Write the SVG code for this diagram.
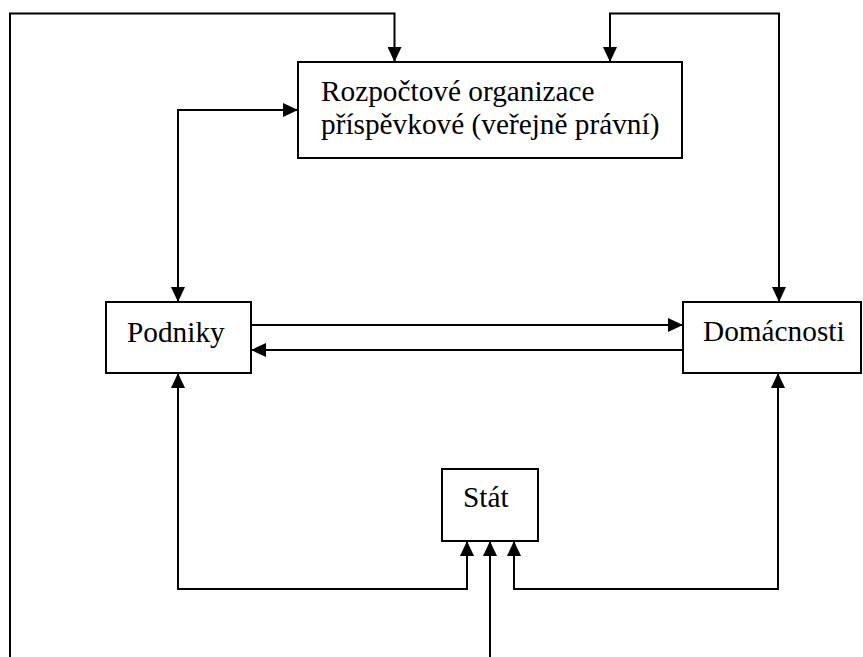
<svg xmlns="http://www.w3.org/2000/svg" width="863" height="657" viewBox="0 0 863 657">
<style>
.box{fill:#fff;stroke:#000;stroke-width:2}
.lbl{font-family:"Liberation Serif","Times New Roman",serif;font-size:29.3px;fill:#000}
.c{fill:none;stroke:#000;stroke-width:2}
</style>
<defs>
<marker id="ah" markerUnits="userSpaceOnUse" markerWidth="15" markerHeight="14" refX="15" refY="7" orient="auto-start-reverse">
<path d="M0,0 L15,7 L0,14 z" fill="#000"/>
</marker>
</defs>
<rect width="863" height="657" fill="#fff"/>
<g id="connectors">
<path class="c" d="M10,657 V13.5 H394.5 V62" marker-end="url(#ah)"/>
<path class="c" d="M610,62 V13.5 H779 V302" marker-start="url(#ah)" marker-end="url(#ah)"/>
<path class="c" d="M178,302 V110 H298" marker-start="url(#ah)" marker-end="url(#ah)"/>
<path class="c" d="M251,325 H683" marker-end="url(#ah)"/>
<path class="c" d="M683,350 H251" marker-end="url(#ah)"/>
<path class="c" d="M178,373 V589 H467 V541" marker-start="url(#ah)" marker-end="url(#ah)"/>
<path class="c" d="M514,541 V589 H778 V373" marker-start="url(#ah)" marker-end="url(#ah)"/>
<path class="c" d="M490,657 V541" marker-end="url(#ah)"/>
</g>
<g id="rozpoctove">
<rect class="box" x="298" y="62" width="384" height="96"/>
<text class="lbl" x="321" y="101">Rozpočtové organizace</text>
<text class="lbl" x="321" y="134">příspěvkové (veřejně právní)</text>
</g>
<g id="podniky">
<rect class="box" x="106" y="302" width="145" height="71"/>
<text class="lbl" x="127" y="342">Podniky</text>
</g>
<g id="domacnosti">
<rect class="box" x="683" y="302" width="178" height="71"/>
<text class="lbl" x="703" y="341">Domácnosti</text>
</g>
<g id="stat">
<rect class="box" x="442" y="469" width="96" height="72"/>
<text class="lbl" x="463" y="507">Stát</text>
</g>
</svg>
